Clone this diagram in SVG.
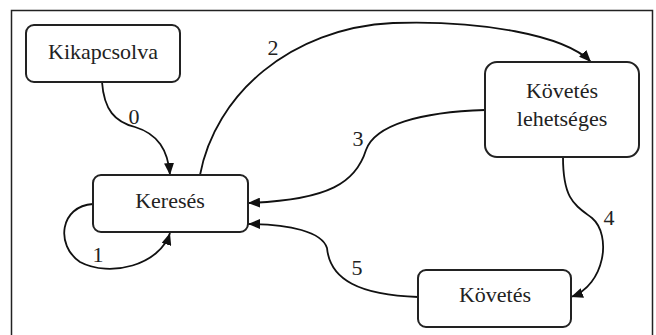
<svg xmlns="http://www.w3.org/2000/svg" width="656" height="335" viewBox="0 0 656 335">
<defs>
<marker id="ah" viewBox="0 0 12 10" refX="12" refY="5" markerWidth="12" markerHeight="10" markerUnits="userSpaceOnUse" orient="auto">
<path d="M0,0 L12,5 L0,10 Z" fill="#111"/>
</marker>
</defs>
<rect x="0" y="0" width="656" height="335" fill="#fff"/>
<path d="M11.5,335 V10.5 H652.5 V335" fill="none" stroke="#222" stroke-width="1.5"/>
<g id="connectors" fill="none" stroke="#111" stroke-width="1.8">
<path marker-end="url(#ah)" d="M102,82 C104,110 115,122 135,127 C158,134 168,150 170,175"/>
<path marker-end="url(#ah)" d="M93,204 C60,206 55,245 80,262 C110,278 160,265 170,233"/>
<path marker-end="url(#ah)" d="M200,175 C215,95 290,28 393,23 C480,20 565,35 591,62"/>
<path marker-end="url(#ah)" d="M485,110 C420,112 375,125 366,150 C356,182 330,200 248,203"/>
<path marker-end="url(#ah)" d="M563,157 C563,200 575,205 592,218 C612,235 605,285 571,297"/>
<path marker-end="url(#ah)" d="M418,297 C360,295 330,280 327,248 C322,232 290,224 248,224"/>
</g>
<g id="edge-labels" font-family="Times New Roman, Liberation Serif, serif" font-size="22" fill="#222" text-anchor="middle">
<text x="134" y="124">0</text>
<text x="98" y="262">1</text>
<text x="273" y="55">2</text>
<text x="358" y="146">3</text>
<text x="609" y="225">4</text>
<text x="357" y="275">5</text>
</g>
<g id="kikapcsolva">
<rect x="26" y="25" width="154" height="57" rx="8" fill="#fff" stroke="#222" stroke-width="2"/>
<text x="103" y="59" font-family="Times New Roman, Liberation Serif, serif" font-size="22" fill="#222" text-anchor="middle">Kikapcsolva</text>
</g>
<g id="kereses">
<rect x="93" y="175" width="155" height="57" rx="8" fill="#fff" stroke="#222" stroke-width="2"/>
<text x="170" y="208" font-family="Times New Roman, Liberation Serif, serif" font-size="22" fill="#222" text-anchor="middle">Keresés</text>
</g>
<g id="kovetes-lehetseges">
<rect x="485" y="62" width="154" height="95" rx="12" fill="#fff" stroke="#222" stroke-width="2"/>
<text x="562" y="98" font-family="Times New Roman, Liberation Serif, serif" font-size="22" fill="#222" text-anchor="middle">Követés</text>
<text x="562" y="126" font-family="Times New Roman, Liberation Serif, serif" font-size="22" fill="#222" text-anchor="middle">lehetséges</text>
</g>
<g id="kovetes">
<rect x="418" y="270" width="153" height="57" rx="8" fill="#fff" stroke="#222" stroke-width="2"/>
<text x="495" y="302" font-family="Times New Roman, Liberation Serif, serif" font-size="22" fill="#222" text-anchor="middle">Követés</text>
</g>
</svg>
